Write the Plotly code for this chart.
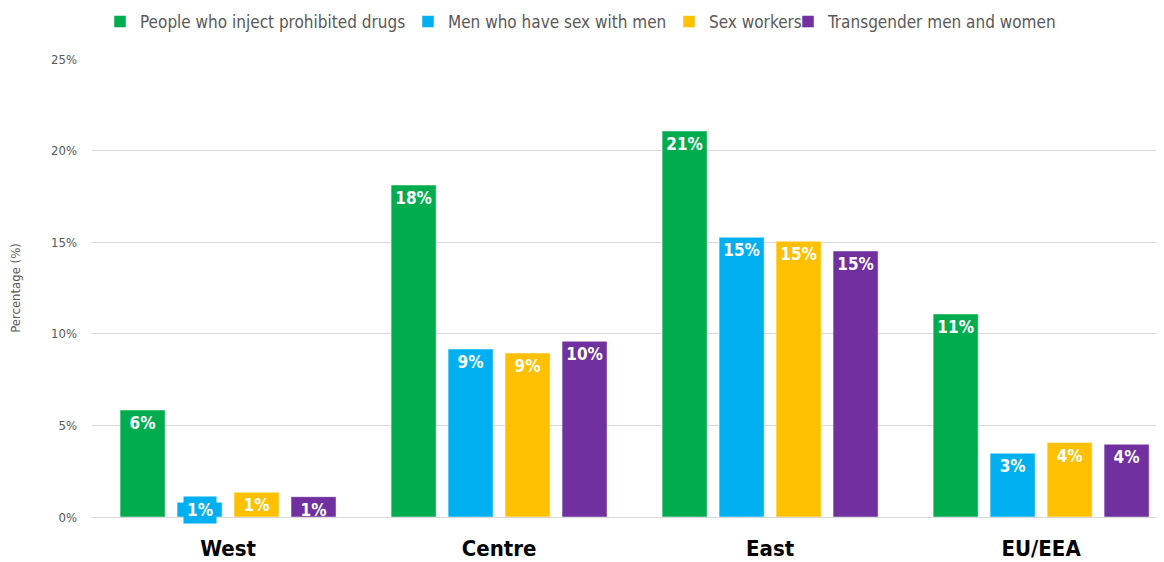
import plotly.graph_objects as go

categories = ["West", "Centre", "East", "EU/EEA"]
series_names = [
    "People who inject prohibited drugs",
    "Men who have sex with men",
    "Sex workers",
    "Transgender men and women",
]
pwid = [5.84, 18.12, 21.07, 11.08]
msm = [0.8, 9.17, 15.27, 3.48]
sex_workers = [1.35, 8.95, 15.05, 4.06]
transgender = [1.11, 9.59, 14.52, 3.97]
y_ticks = [0, 5, 10, 15, 20, 25]
y_tick_labels = ["0%", "5%", "10%", "15%", "20%", "25%"]

values = [pwid, msm, sex_workers, transgender]
colors = ["#00AC4E", "#00B0F0", "#FFC000", "#7030A0"]
legend_ids = ["legend", "legend2", "legend3", "legend4"]
legend_text_x = [140, 448, 709, 828]

W, H = 1164, 562
FONT = "DejaVu Sans Condensed"
BAR_STEP_PX = 57  # distance between neighbouring bars in a group
SMALL = 1.0       # bars too short to hold their label get a boxed label

fig = go.Figure()
annotations = []
n = len(values)
for i, (name, vals, col, lid) in enumerate(zip(series_names, values, colors, legend_ids)):
    labels = [f"{v:.0f}%" for v in vals]
    fig.add_trace(go.Bar(
        x=categories, y=vals, name=name, legend=lid, showlegend=True,
        marker=dict(color=col, line=dict(color="rgba(255,255,255,0.6)", width=0.8)),
        text=[lab if v >= SMALL else "" for lab, v in zip(labels, vals)],
        texttemplate="%{text}", textposition="inside", insidetextanchor="end",
        constraintext="none", cliponaxis=False,
        textfont=dict(family=FONT, size=17, color="white", weight="bold"),
        textangle=0, hoverinfo="x+y+name",
    ))
    for c, v, lab in zip(categories, vals, labels):
        if v < SMALL:
            annotations.append(dict(
                x=c, y=v, xref="x", yref="y", text=f"<b>{lab}</b>",
                showarrow=False, xshift=(i - (n - 1) / 2) * BAR_STEP_PX,
                yshift=-8, yanchor="middle", bgcolor=col, borderpad=3,
                font=dict(family=FONT, size=17, color="white"),
            ))

layout_legends = {}
for lid, tx in zip(legend_ids, legend_text_x):
    layout_legends[lid] = dict(
        xref="container", yref="container", x=(tx - 48) / W, y=1 - 14 / H,
        xanchor="left", yanchor="middle", orientation="h",
        font=dict(family=FONT, size=17, color="#595959"),
        bgcolor="rgba(0,0,0,0)", itemwidth=30, visible=True,
    )

fig.update_layout(
    width=W, height=H,
    margin=dict(l=84, r=10, t=51, b=53, autoexpand=False),
    paper_bgcolor="white", plot_bgcolor="white",
    barmode="group", bargap=0.159, bargroupgap=0.21,
    font=dict(family=FONT, color="#595959"),
    showlegend=True, annotations=annotations,
    **layout_legends,
)
fig.update_xaxes(
    range=[-0.502, 3.446], automargin=False,
    tickfont=dict(family=FONT, size=22, color="black", weight="bold"),
    ticklabelstandoff=12, showline=True, linecolor="#D9D9D9", linewidth=1,
    showgrid=False, zeroline=False,
)
fig.update_yaxes(
    range=[0, 25], tickvals=y_ticks, ticktext=y_tick_labels, automargin=False,
    tickfont=dict(family=FONT, size=13, color="#595959"),
    showgrid=True, gridcolor="#D9D9D9", gridwidth=1, zeroline=False,
    ticklabelstandoff=14,
    title=dict(text="Percentage (%)", font=dict(family=FONT, size=13, color="#595959"), standoff=28),
)

fig.write_html("out.html")
